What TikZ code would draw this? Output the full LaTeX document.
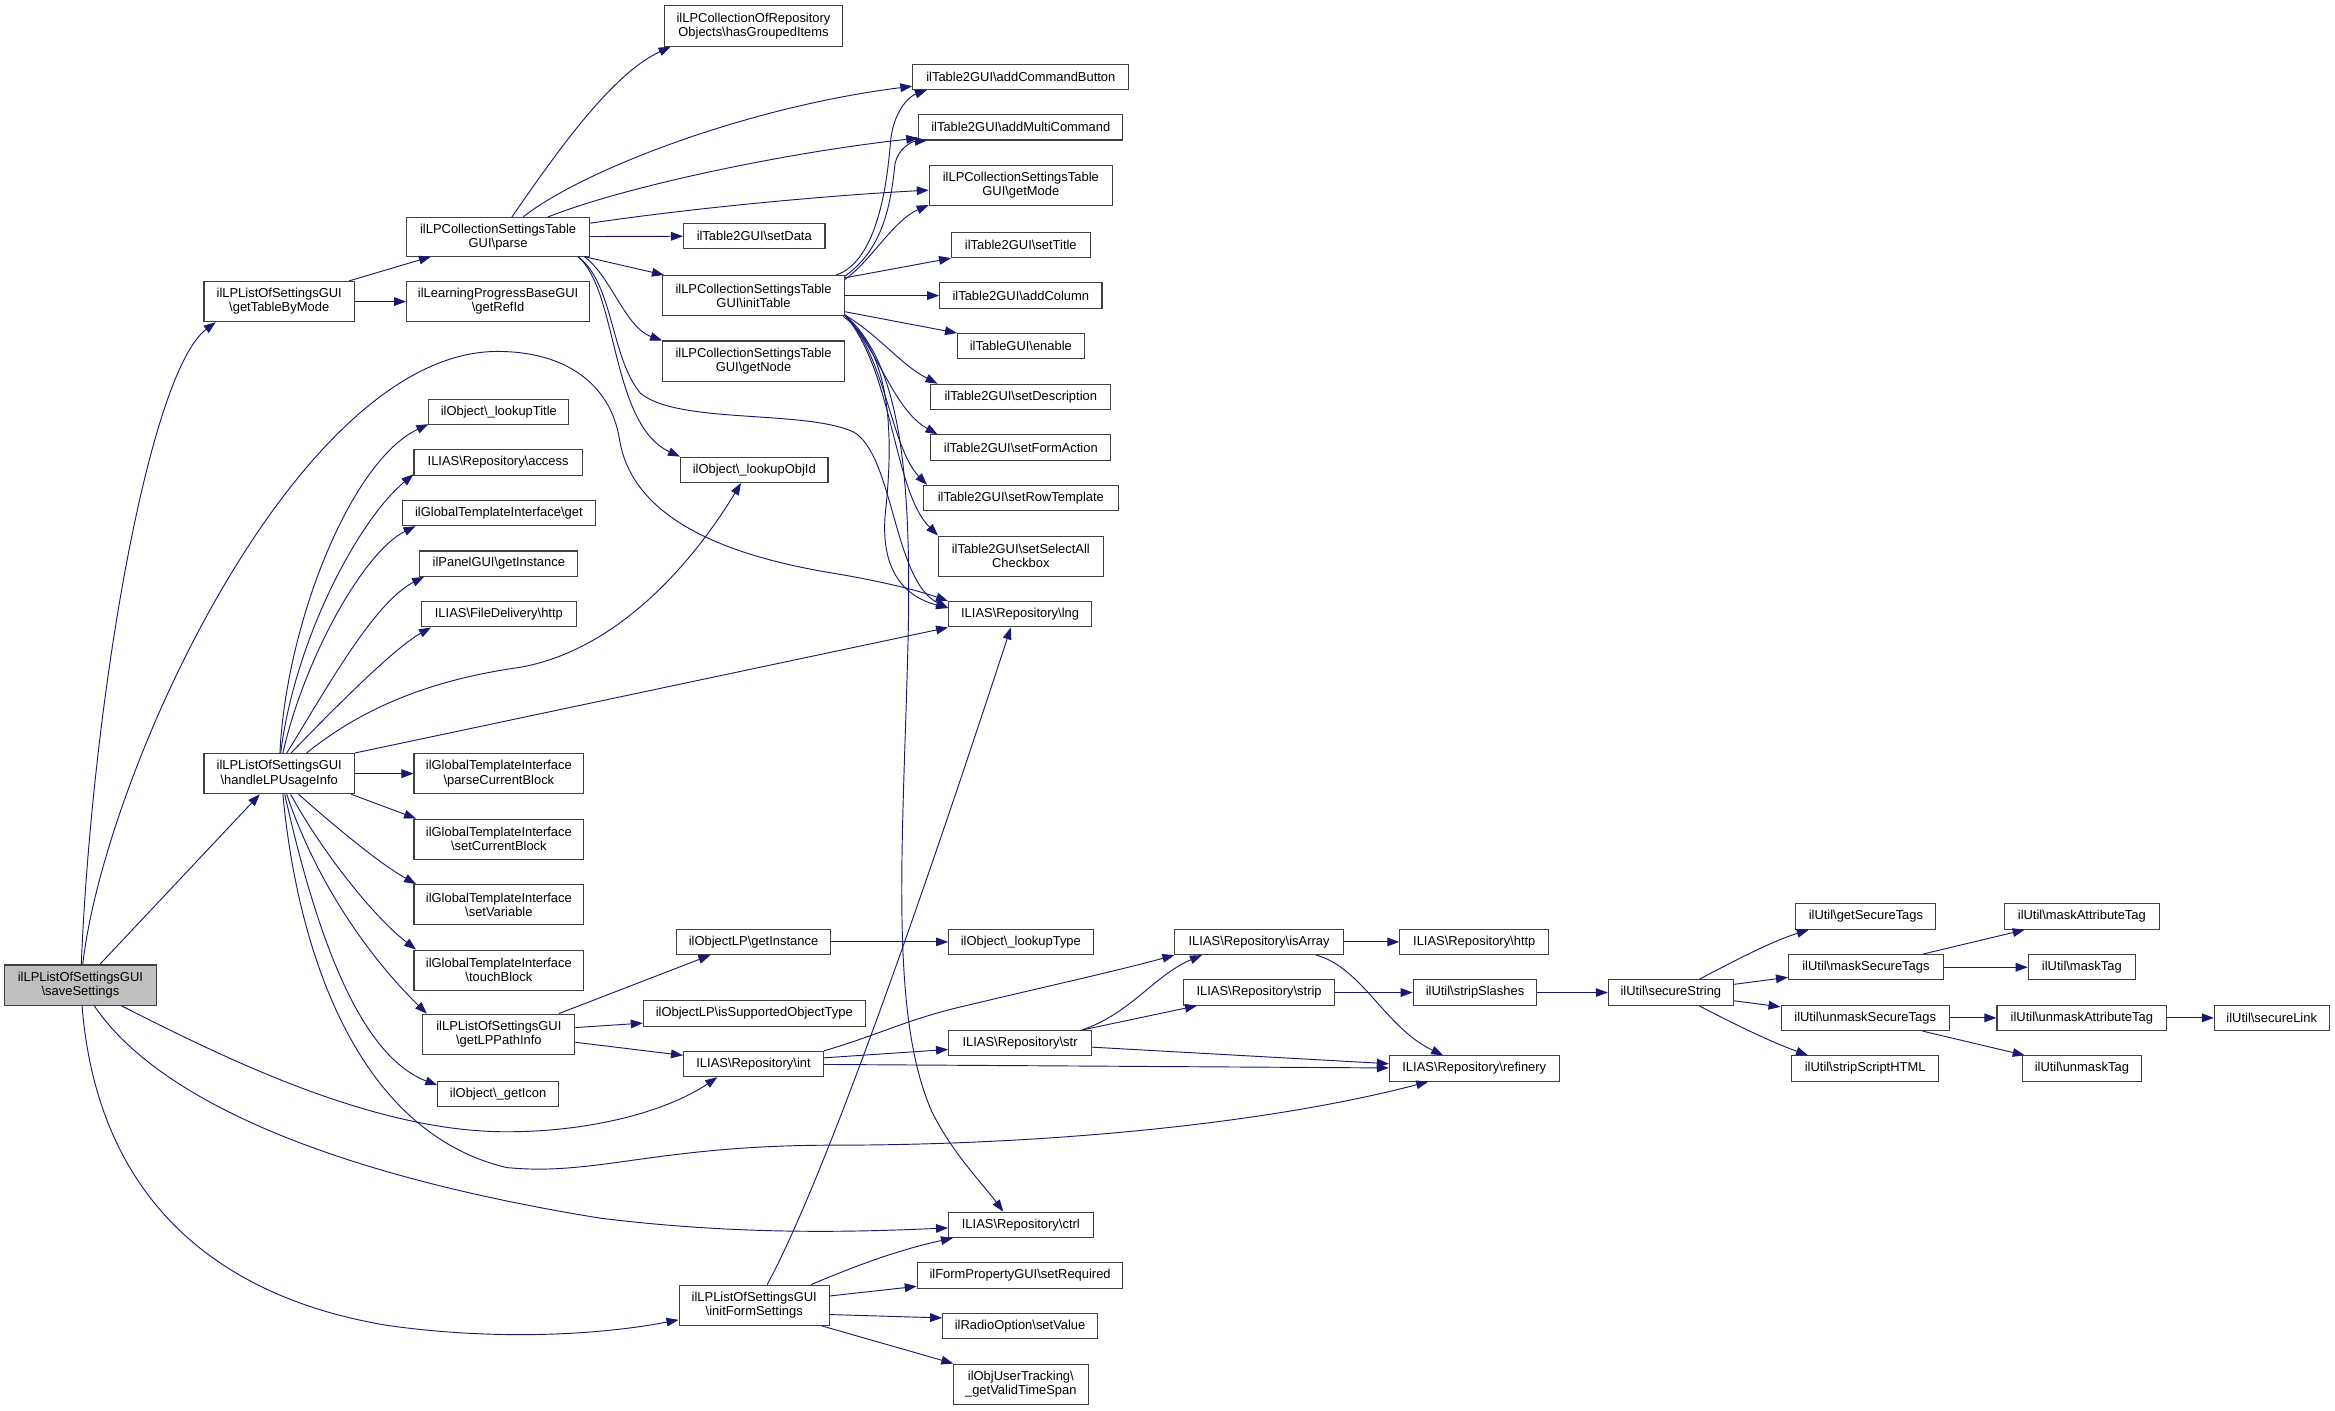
\documentclass[tikz,border=0pt]{standalone}
\usepackage{fontspec}
\setmainfont{Liberation Sans}
\usetikzlibrary{arrows.meta}
\definecolor{edgec}{HTML}{191970}
\definecolor{rootc}{HTML}{BFBFBF}
\newcommand{\bs}{\textbackslash}
\newcommand{\nd}[7][]{\node[box,#1,minimum width={(#5-#3)*1.1167pt},minimum height={(#6-#4)*1.1167pt}] (#2) at ({(#3+#5)/2},{(#4+#6)/2}) {#7};}
\begin{document}
\begin{tikzpicture}[x=1.1167pt,y=-1.1167pt,
 box/.style={draw=black!75,line width=0.8pt,rectangle,inner sep=0pt,align=center,font=\fontsize{9.7}{10.6}\selectfont,fill=white},
 e/.style={draw=edgec,line width=0.7pt,-{Triangle[length=9pt,width=6.5pt]}}]
\useasboundingbox[fill=white] (0,0) rectangle (1568,947.5);
% nodes
\nd[fill=rootc]{S}{3}{648}{105}{675}{ilLPListOfSettingsGUI\\\bs saveSettings}
\nd{gtbm}{137}{189}{238}{216}{ilLPListOfSettingsGUI\\\bs getTableByMode}
\nd{H}{137}{506}{238}{533}{ilLPListOfSettingsGUI\\\bs handleLPUsageInfo}
\nd{parse}{273}{146}{396}{172}{ilLPCollectionSettingsTable\\GUI\bs parse}
\nd{refid}{273}{189}{396}{216}{ilLearningProgressBaseGUI\\\bs getRefId}
\nd{hgi}{446}{4}{566}{31}{ilLPCollectionOfRepository\\Objects\bs hasGroupedItems}
\nd{setData}{459}{150}{554}{167}{ilTable2GUI\bs setData}
\nd{initT}{445}{185}{567}{212}{ilLPCollectionSettingsTable\\GUI\bs initTable}
\nd{getNode}{445}{229}{567}{256}{ilLPCollectionSettingsTable\\GUI\bs getNode}
\nd{lookupObjId}{457}{307}{556}{324}{ilObject\bs\_lookupObjId}
\nd{lookupTitle}{288}{268}{382}{285}{ilObject\bs\_lookupTitle}
\nd{access}{278}{302}{391}{319}{ILIAS\bs Repository\bs access}
\nd{tget}{270}{336}{400}{353}{ilGlobalTemplateInterface\bs get}
\nd{panel}{282}{370}{388}{387}{ilPanelGUI\bs getInstance}
\nd{fdhttp}{283}{404}{387}{421}{ILIAS\bs FileDelivery\bs http}
\nd{pcb}{278}{506}{392}{533}{ilGlobalTemplateInterface\\\bs parseCurrentBlock}
\nd{scb}{278}{550}{392}{577}{ilGlobalTemplateInterface\\\bs setCurrentBlock}
\nd{svar}{278}{594}{392}{621}{ilGlobalTemplateInterface\\\bs setVariable}
\nd{tblk}{278}{638}{392}{665}{ilGlobalTemplateInterface\\\bs touchBlock}
\nd{lpp}{284}{681}{386}{708}{ilLPListOfSettingsGUI\\\bs getLPPathInfo}
\nd{icon}{294}{726}{375}{743}{ilObject\bs\_getIcon}
\nd{olpgi}{454}{624}{558}{641}{ilObjectLP\bs getInstance}
\nd{isot}{432}{672}{581}{689}{ilObjectLP\bs isSupportedObjectType}
\nd{int}{459}{706}{553}{723}{ILIAS\bs Repository\bs int}
\nd{ifs}{456}{863}{557}{890}{ilLPListOfSettingsGUI\\\bs initFormSettings}
\nd{acb}{613}{43}{758}{60}{ilTable2GUI\bs addCommandButton}
\nd{amc}{617}{77}{754}{94}{ilTable2GUI\bs addMultiCommand}
\nd{gmode}{624}{111}{747}{138}{ilLPCollectionSettingsTable\\GUI\bs getMode}
\nd{stitle}{639}{156}{732}{173}{ilTable2GUI\bs setTitle}
\nd{acol}{631}{190}{740}{207}{ilTable2GUI\bs addColumn}
\nd{enable}{643}{224}{728}{241}{ilTableGUI\bs enable}
\nd{sdesc}{625}{258}{746}{275}{ilTable2GUI\bs setDescription}
\nd{sfa}{625}{292}{746}{309}{ilTable2GUI\bs setFormAction}
\nd{srt}{620}{326}{751}{343}{ilTable2GUI\bs setRowTemplate}
\nd{ssa}{630}{360}{741}{387}{ilTable2GUI\bs setSelectAll\\Checkbox}
\nd{lng}{637}{404}{733}{421}{ILIAS\bs Repository\bs lng}
\nd{ltype}{637}{624}{734}{641}{ilObject\bs\_lookupType}
\nd{str}{637}{692}{733}{709}{ILIAS\bs Repository\bs str}
\nd{ctrl}{637}{814}{734}{831}{ILIAS\bs Repository\bs ctrl}
\nd{sreq}{616}{848}{754}{865}{ilFormPropertyGUI\bs setRequired}
\nd{sval}{633}{882}{737}{899}{ilRadioOption\bs setValue}
\nd{gvts}{640}{916}{731}{943}{ilObjUserTracking\bs\\\_getValidTimeSpan}
\nd{isArr}{789}{624}{902}{641}{ILIAS\bs Repository\bs isArray}
\nd{rhttp}{940}{624}{1040}{641}{ILIAS\bs Repository\bs http}
\nd{strip}{795}{658}{896}{675}{ILIAS\bs Repository\bs strip}
\nd{sslash}{949}{658}{1032}{675}{ilUtil\bs stripSlashes}
\nd{refinery}{933}{709}{1047}{726}{ILIAS\bs Repository\bs refinery}
\nd{secstr}{1080}{658}{1164}{675}{ilUtil\bs secureString}
\nd{gst}{1206}{607}{1300}{624}{ilUtil\bs getSecureTags}
\nd{mst}{1201}{641}{1305}{658}{ilUtil\bs maskSecureTags}
\nd{umst}{1196}{675}{1309}{692}{ilUtil\bs unmaskSecureTags}
\nd{ssh}{1203}{709}{1302}{726}{ilUtil\bs stripScriptHTML}
\nd{mat}{1346}{607}{1450}{624}{ilUtil\bs maskAttributeTag}
\nd{mtag}{1362}{641}{1434}{658}{ilUtil\bs maskTag}
\nd{umat}{1341}{675}{1455}{692}{ilUtil\bs unmaskAttributeTag}
\nd{utag}{1358}{709}{1438}{726}{ilUtil\bs unmaskTag}
\nd{slink}{1487}{675}{1564}{692}{ilUtil\bs secureLink}
% edges from saveSettings
\draw[e] (S) .. controls (62,470) and (100,250) .. (gtbm.198);
\draw[e] (S) -- (H);
\draw[e] (S) .. controls (70,520) and (200,236) .. (334,236) .. controls (380,236) and (410,258) .. (416,295) .. controls (424,345) and (480,372) .. (560,385) .. controls (590,390) and (615,396) .. (lng.north west);
\draw[e] (S) .. controls (150,710) and (250,760) .. (340,760) .. controls (400,760) and (450,745) .. (int.200);
\draw[e] (S) .. controls (100,730) and (200,785) .. (403,818) .. controls (500,830) and (580,827) .. (ctrl);
\draw[e] (S) .. controls (65,800) and (140,870) .. (260,890) .. controls (330,900) and (400,897) .. (ifs);
% getTableByMode
\draw[e] (gtbm) -- (parse);
\draw[e] (gtbm) -- (refid);
% parse
\draw[e] (parse) .. controls (372,105) and (410,50) .. (hgi.194);
\draw[e] (parse) .. controls (390,115) and (500,72) .. (acb.185);
\draw[e] (parse) .. controls (420,125) and (530,102) .. (amc.186);
\draw[e] (parse) .. controls (470,139) and (560,131) .. (gmode);
\draw[e] (parse) -- (setData);
\draw[e] (parse) -- (initT);
\draw[e] (parse.-13) .. controls (410,185) and (420,220) .. (getNode.north west);
\draw[e] (parse.-14) .. controls (415,195) and (410,285) .. (lookupObjId.north west);
\draw[e] (parse.-14.5) .. controls (412,190) and (410,240) .. (430,264) .. controls (455,285) and (540,275) .. (573,290) .. controls (600,305) and (600,390) .. (lng.175);
% initTable
\draw[e] (initT.14) .. controls (590,175) and (596,120) .. (598,95) .. controls (600,75) and (610,65) .. (acb.188);
\draw[e] (initT.12) .. controls (592,168) and (598,140) .. (601,110) .. controls (603,100) and (612,95) .. (amc.188);
\draw[e] (initT.10) .. controls (585,175) and (600,148) .. (gmode.192);
\draw[e] (initT.11) -- (stitle.south west);
\draw[e] (initT) -- (acol);
\draw[e] (initT.-10) -- (enable.north west);
\draw[e] (initT.-12) .. controls (590,225) and (605,245) .. (sdesc.171);
\draw[e] (initT.-12) .. controls (590,235) and (600,275) .. (sfa.171);
\draw[e] (initT.-12) .. controls (595,240) and (598,300) .. (srt.172);
\draw[e] (initT.-12) .. controls (600,250) and (600,330) .. (ssa.166);
\draw[e] (initT.-13) .. controls (598,235) and (600,290) .. (595,340) .. controls (590,380) and (605,400) .. (lng.175);
\draw[e] (initT.-12) .. controls (600,240) and (612,300) .. (610,420) .. controls (607,560) and (596,680) .. (626,747) .. controls (640,775) and (660,795) .. (ctrl.143);
% handleLPUsageInfo
\draw[e] (H.88) .. controls (192,420) and (235,310) .. (lookupTitle.190);
\draw[e] (H.86) .. controls (198,430) and (240,350) .. (access.188);
\draw[e] (H.80) .. controls (205,440) and (245,370) .. (tget.189);
\draw[e] (H.70) .. controls (215,470) and (250,405) .. (panel.190);
\draw[e] (H.60) .. controls (225,475) and (265,435) .. (fdhttp.191);
\draw[e] (H.37) .. controls (250,470) and (300,455) .. (350,448) .. controls (420,435) and (470,370) .. (lookupObjId.225);
\draw[e] (H.north east) -- (lng.south west);
\draw[e] (H) -- (pcb);
\draw[e] (H.-16) -- (scb.166);
\draw[e] (H.-47) .. controls (225,555) and (255,580) .. (svar.166);
\draw[e] (H.-61) .. controls (215,570) and (250,615) .. (tblk.166);
\draw[e] (H.-70) .. controls (215,600) and (255,650) .. (lpp.164);
\draw[e] (H.-75) .. controls (215,640) and (245,710) .. (icon.172);
\draw[e] (H.-80) .. controls (200,640) and (240,760) .. (340,784) .. controls (400,790) and (440,769) .. (560,769) .. controls (700,769) and (850,755) .. (refinery.196);
% getLPPathInfo
\draw[e] (lpp.19) -- (olpgi.197);
\draw[e] (lpp.5) -- (isot.185);
\draw[e] (lpp.-6) -- (int.173);
\draw[e] (olpgi) -- (ltype);
% int, str, isArray
\draw[e] (int.north east) .. controls (590,695) and (610,684) .. (650,675) .. controls (700,663) and (750,652) .. (isArr.south west);
\draw[e] (int.5) -- (str.185);
\draw[e] (int) -- (refinery);
\draw[e] (str.12) .. controls (760,680) and (775,655) .. (isArr.193);
\draw[e] (str.12) -- (strip.192);
\draw[e] (str) -- (refinery);
\draw[e] (isArr) -- (rhttp);
\draw[e] (isArr.-13) .. controls (915,650) and (930,690) .. (refinery.157);
\draw[e] (strip) -- (sslash);
\draw[e] (sslash) -- (secstr);
% secureString
\draw[e] (secstr.25) .. controls (1165,645) and (1190,632) .. (gst.193);
\draw[e] (secstr) -- (mst);
\draw[e] (secstr) -- (umst);
\draw[e] (secstr.-25) .. controls (1165,688) and (1190,700) .. (ssh.167);
\draw[e] (mst.13) -- (mat.193);
\draw[e] (mst) -- (mtag);
\draw[e] (umst) -- (umat);
\draw[e] (umst.-13) -- (utag.167);
\draw[e] (umat) -- (slink);
% initFormSettings
\draw[e] (ifs.58) .. controls (560,780) and (640,540) .. (lng.235);
\draw[e] (ifs.20) .. controls (570,852) and (600,840) .. (ctrl.191);
\draw[e] (ifs.7) -- (sreq.186);
\draw[e] (ifs.-7) -- (sval.174);
\draw[e] (ifs.-17) -- (gvts.163);
\end{tikzpicture}
\end{document}
